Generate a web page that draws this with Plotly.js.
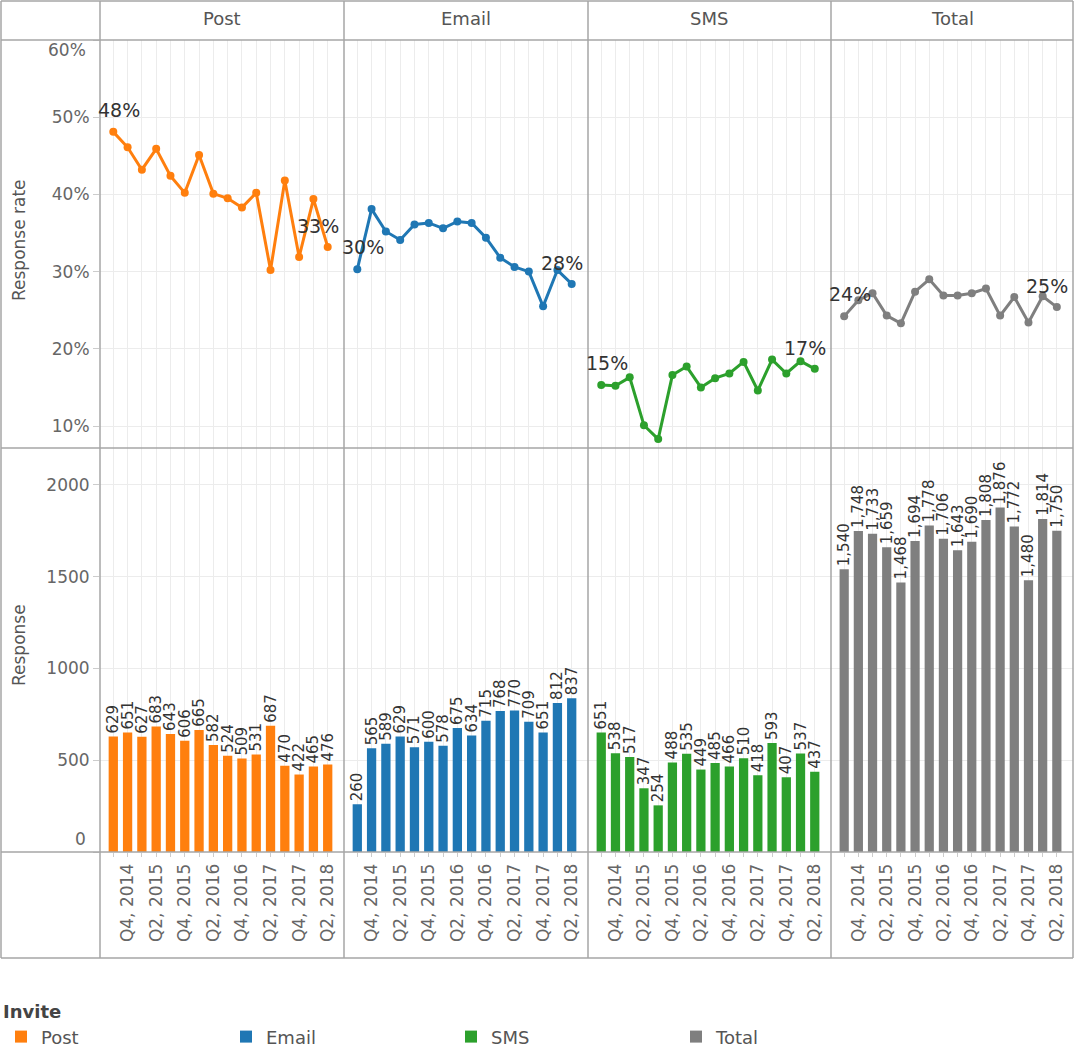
<!DOCTYPE html>
<html>
<head>
<meta charset="utf-8">
<script src="https://cdn.plot.ly/plotly-3.0.1.min.js"></script>
<style>
  html, body { margin: 0; padding: 0; background: #ffffff; }
  #chart { width: 1075px; height: 1057px; }
</style>
</head>
<body>
<div id="chart"></div>
<script>
// ---------------- DATA ----------------
const quarters = ["Q3, 2014","Q4, 2014","Q1, 2015","Q2, 2015","Q3, 2015","Q4, 2015","Q1, 2016","Q2, 2016",
                  "Q3, 2016","Q4, 2016","Q1, 2017","Q2, 2017","Q3, 2017","Q4, 2017","Q1, 2018","Q2, 2018"];
const channels = ["Post", "Email", "SMS", "Total"];
const colors = ["#ff7f0e", "#1f77b4", "#2ca02c", "#7f7f7f"];

// Response rate (%)
const ratePost  = [48.1, 46.1, 43.2, 45.9, 42.4, 40.2, 45.1, 40.1, 39.5, 38.3, 40.2, 30.2, 41.8, 31.9, 39.4, 33.2];
const rateEmail = [30.3, 38.1, 35.2, 34.1, 36.1, 36.3, 35.6, 36.5, 36.3, 34.4, 31.8, 30.6, 30.0, 25.5, 30.2, 28.4];
const rateSMS   = [15.3, 15.2, 16.3, 10.1,  8.3, 16.6, 17.7, 15.0, 16.2, 16.8, 18.3, 14.6, 18.6, 16.8, 18.4, 17.4];
const rateTotal = [24.2, 26.3, 27.2, 24.3, 23.3, 27.4, 29.0, 26.9, 26.9, 27.2, 27.8, 24.3, 26.7, 23.4, 26.8, 25.4];

// Responses (count)
const respPost  = [629, 651, 627, 683, 643, 606, 665, 582, 524, 509, 531, 687, 470, 422, 465, 476];
const respEmail = [260, 565, 589, 629, 571, 600, 578, 675, 634, 715, 768, 770, 709, 651, 812, 837];
const respSMS   = [651, 538, 517, 347, 254, 488, 535, 449, 485, 466, 510, 418, 593, 407, 537, 437];
const respTotal = [1540, 1748, 1733, 1659, 1468, 1694, 1778, 1706, 1643, 1690, 1808, 1876, 1772, 1480, 1814, 1750];

const rateTicks = [10, 20, 30, 40, 50, 60];
const respTicks = [0, 500, 1000, 1500, 2000];

const rates = [ratePost, rateEmail, rateSMS, rateTotal];
const resps = [respPost, respEmail, respSMS, respTotal];

// ---------------- LAYOUT HELPERS ----------------
const W = 1075, H = 1057;
const mL = 100, mR = 2, mT = 40, mB = 205;
const pw = W - mL - mR, ph = H - mT - mB;
const px2x = p => (p - mL) / pw;
const py2y = p => (H - mB - p) / ph;

const colEdges = [100, 344, 588, 831, 1073];
const rowSplit = py2y(448);

const FONT = "DejaVu Sans, Verdana, sans-serif";
const tickFont = {family: FONT, size: 17, color: "#666666"};
const gridColor = "#ececec";
const borderColor = "#a6a6a6";

const xTickText = quarters.map((q, i) => (i % 2 === 1 ? q : ""));
const rateMax = rateTicks[rateTicks.length - 1];
const respMin = respTicks[0];

const traces = [];
const layout = {
  width: W, height: H,
  margin: {l: mL, r: mR, t: mT, b: mB, pad: 0, autoexpand: false},
  paper_bgcolor: "#ffffff",
  plot_bgcolor: "#ffffff",
  font: {family: FONT, color: "#555555"},
  showlegend: true,
  legend: {
    orientation: "h",
    x: px2x(1), xanchor: "left",
    y: py2y(995), yanchor: "top",
    entrywidth: 180, entrywidthmode: "pixels",
    title: {text: "Invite", side: "top", font: {family: FONT, size: 18, color: "#444444", weight: "bold"}},
    font: {family: FONT, size: 18, color: "#555555"},
    itemclick: false
  },
  shapes: [],
  annotations: []
};

for (let c = 0; c < 4; c++) {
  const xd = [px2x(colEdges[c]), px2x(colEdges[c + 1])];
  const xTop = "x" + (c + 1), yTop = "y" + (c + 1);
  const xBot = "x" + (c + 5), yBot = "y" + (c + 5);
  const xKeyTop = "xaxis" + (c + 1), yKeyTop = "yaxis" + (c + 1);
  const xKeyBot = "xaxis" + (c + 5), yKeyBot = "yaxis" + (c + 5);

  const xRange = [-0.93, quarters.length - 1 + 1.14];

  layout[xKeyTop] = {
    domain: xd, anchor: yTop, type: "category", range: xRange,
    tickvals: quarters, ticktext: quarters.map(() => ""),
    showgrid: true, gridcolor: gridColor, ticks: "", showline: false, zeroline: false,
    fixedrange: true
  };
  layout[xKeyBot] = {
    domain: xd, anchor: yBot, type: "category", range: xRange,
    tickvals: quarters, ticktext: xTickText, tickangle: -90,
    tickfont: tickFont,
    showgrid: true, gridcolor: gridColor,
    ticks: "outside", ticklen: 4, tickcolor: "#cccccc",
    showline: false, zeroline: false, fixedrange: true
  };
  layout[yKeyTop] = {
    domain: [rowSplit, 1], anchor: xTop,
    range: [7.15, 60],
    tickvals: rateTicks, ticktext: rateTicks.map(v => (v === rateMax ? "" : v + "%")),
    showticklabels: c === 0, tickfont: tickFont,
    ticks: c === 0 ? "outside" : "", ticklen: 6, tickcolor: "#cccccc",
    showgrid: true, gridcolor: gridColor, zeroline: false, showline: false, fixedrange: true
  };
  layout[yKeyBot] = {
    domain: [0, rowSplit], anchor: xBot,
    range: [0, 2200],
    tickvals: respTicks, ticktext: respTicks.map(v => (v === respMin ? "" : String(v))),
    showticklabels: c === 0, tickfont: tickFont,
    ticks: c === 0 ? "outside" : "", ticklen: 6, tickcolor: "#cccccc",
    showgrid: true, gridcolor: gridColor, zeroline: false, showline: false, fixedrange: true
  };

  // line trace (response rate)
  const r = rates[c];
  traces.push({
    type: "scatter", mode: "lines+markers",
    x: quarters, y: r, xaxis: xTop, yaxis: yTop,
    line: {color: colors[c], width: 3},
    marker: {color: colors[c], size: 8},
    cliponaxis: false,
    name: channels[c], legendgroup: channels[c], showlegend: false,
    hoverinfo: "x+y"
  });
  // first / last labels on the line
  [[0, 6, 22], [r.length - 1, -10, 21]].forEach(([i, dx, dy]) => {
    layout.annotations.push({
      text: Math.round(r[i]) + "%", xref: xTop, yref: yTop,
      x: quarters[i], y: r[i], xshift: dx, yshift: dy,
      xanchor: "center", yanchor: "middle", showarrow: false,
      font: {family: FONT, size: 19, color: "#333333"}
    });
  });

  // bar trace (responses)
  traces.push({
    type: "bar",
    x: quarters, y: resps[c], xaxis: xBot, yaxis: yBot,
    marker: {color: colors[c], line: {width: 0}},
    width: 0.65,
    texttemplate: c === 3 ? "%{y:,}" : "%{y}",
    textposition: "outside", textangle: -90,
    constraintext: "none",
    textfont: {family: FONT, size: 15, color: "#333333"},
    cliponaxis: false,
    name: channels[c], legendgroup: channels[c], showlegend: true
  });

  // column header
  layout.annotations.push({
    text: channels[c], xref: "paper", yref: "paper",
    x: (xd[0] + xd[1]) / 2, y: py2y(19), xanchor: "center", yanchor: "middle",
    showarrow: false, font: {family: FONT, size: 18, color: "#555555"}
  });
}

// edge tick labels kept inside their panels (as in the reference)
layout.annotations.push({
  text: rateMax + "%", xref: "paper", yref: "y1", x: px2x(88), y: rateMax, yshift: -10,
  xanchor: "right", yanchor: "middle", showarrow: false, font: tickFont
});
layout.annotations.push({
  text: String(respMin), xref: "paper", yref: "y5", x: px2x(88), y: respMin, yshift: 13,
  xanchor: "right", yanchor: "middle", showarrow: false, font: tickFont
});

// row (axis) titles
layout.annotations.push({
  text: "Response rate", xref: "paper", yref: "paper",
  x: px2x(19), y: py2y(240), xanchor: "center", yanchor: "middle", textangle: -90,
  showarrow: false, font: {family: FONT, size: 17, color: "#555555"}
});
layout.annotations.push({
  text: "Response", xref: "paper", yref: "paper",
  x: px2x(19), y: py2y(645), xanchor: "center", yanchor: "middle", textangle: -90,
  showarrow: false, font: {family: FONT, size: 17, color: "#555555"}
});

// table borders
const line = (x0, y0, x1, y1) => ({
  type: "line", xref: "paper", yref: "paper",
  x0: px2x(x0), y0: py2y(y0), x1: px2x(x1), y1: py2y(y1),
  line: {color: borderColor, width: 1.5}, layer: "above"
});
const L = 1, R = 1073, T = 1, B = 958;
layout.shapes.push(line(L, T, R, T));
layout.shapes.push(line(L, 40, R, 40));
layout.shapes.push(line(L, 448, R, 448));
layout.shapes.push(line(L, 852, R, 852));
layout.shapes.push(line(L, B, R, B));
layout.shapes.push(line(L, T, L, B));
colEdges.forEach(xe => layout.shapes.push(line(xe, T, xe, B)));

layout.barmode = "group";

Plotly.newPlot("chart", traces, layout, {displayModeBar: false, staticPlot: true});
</script>
</body>
</html>
